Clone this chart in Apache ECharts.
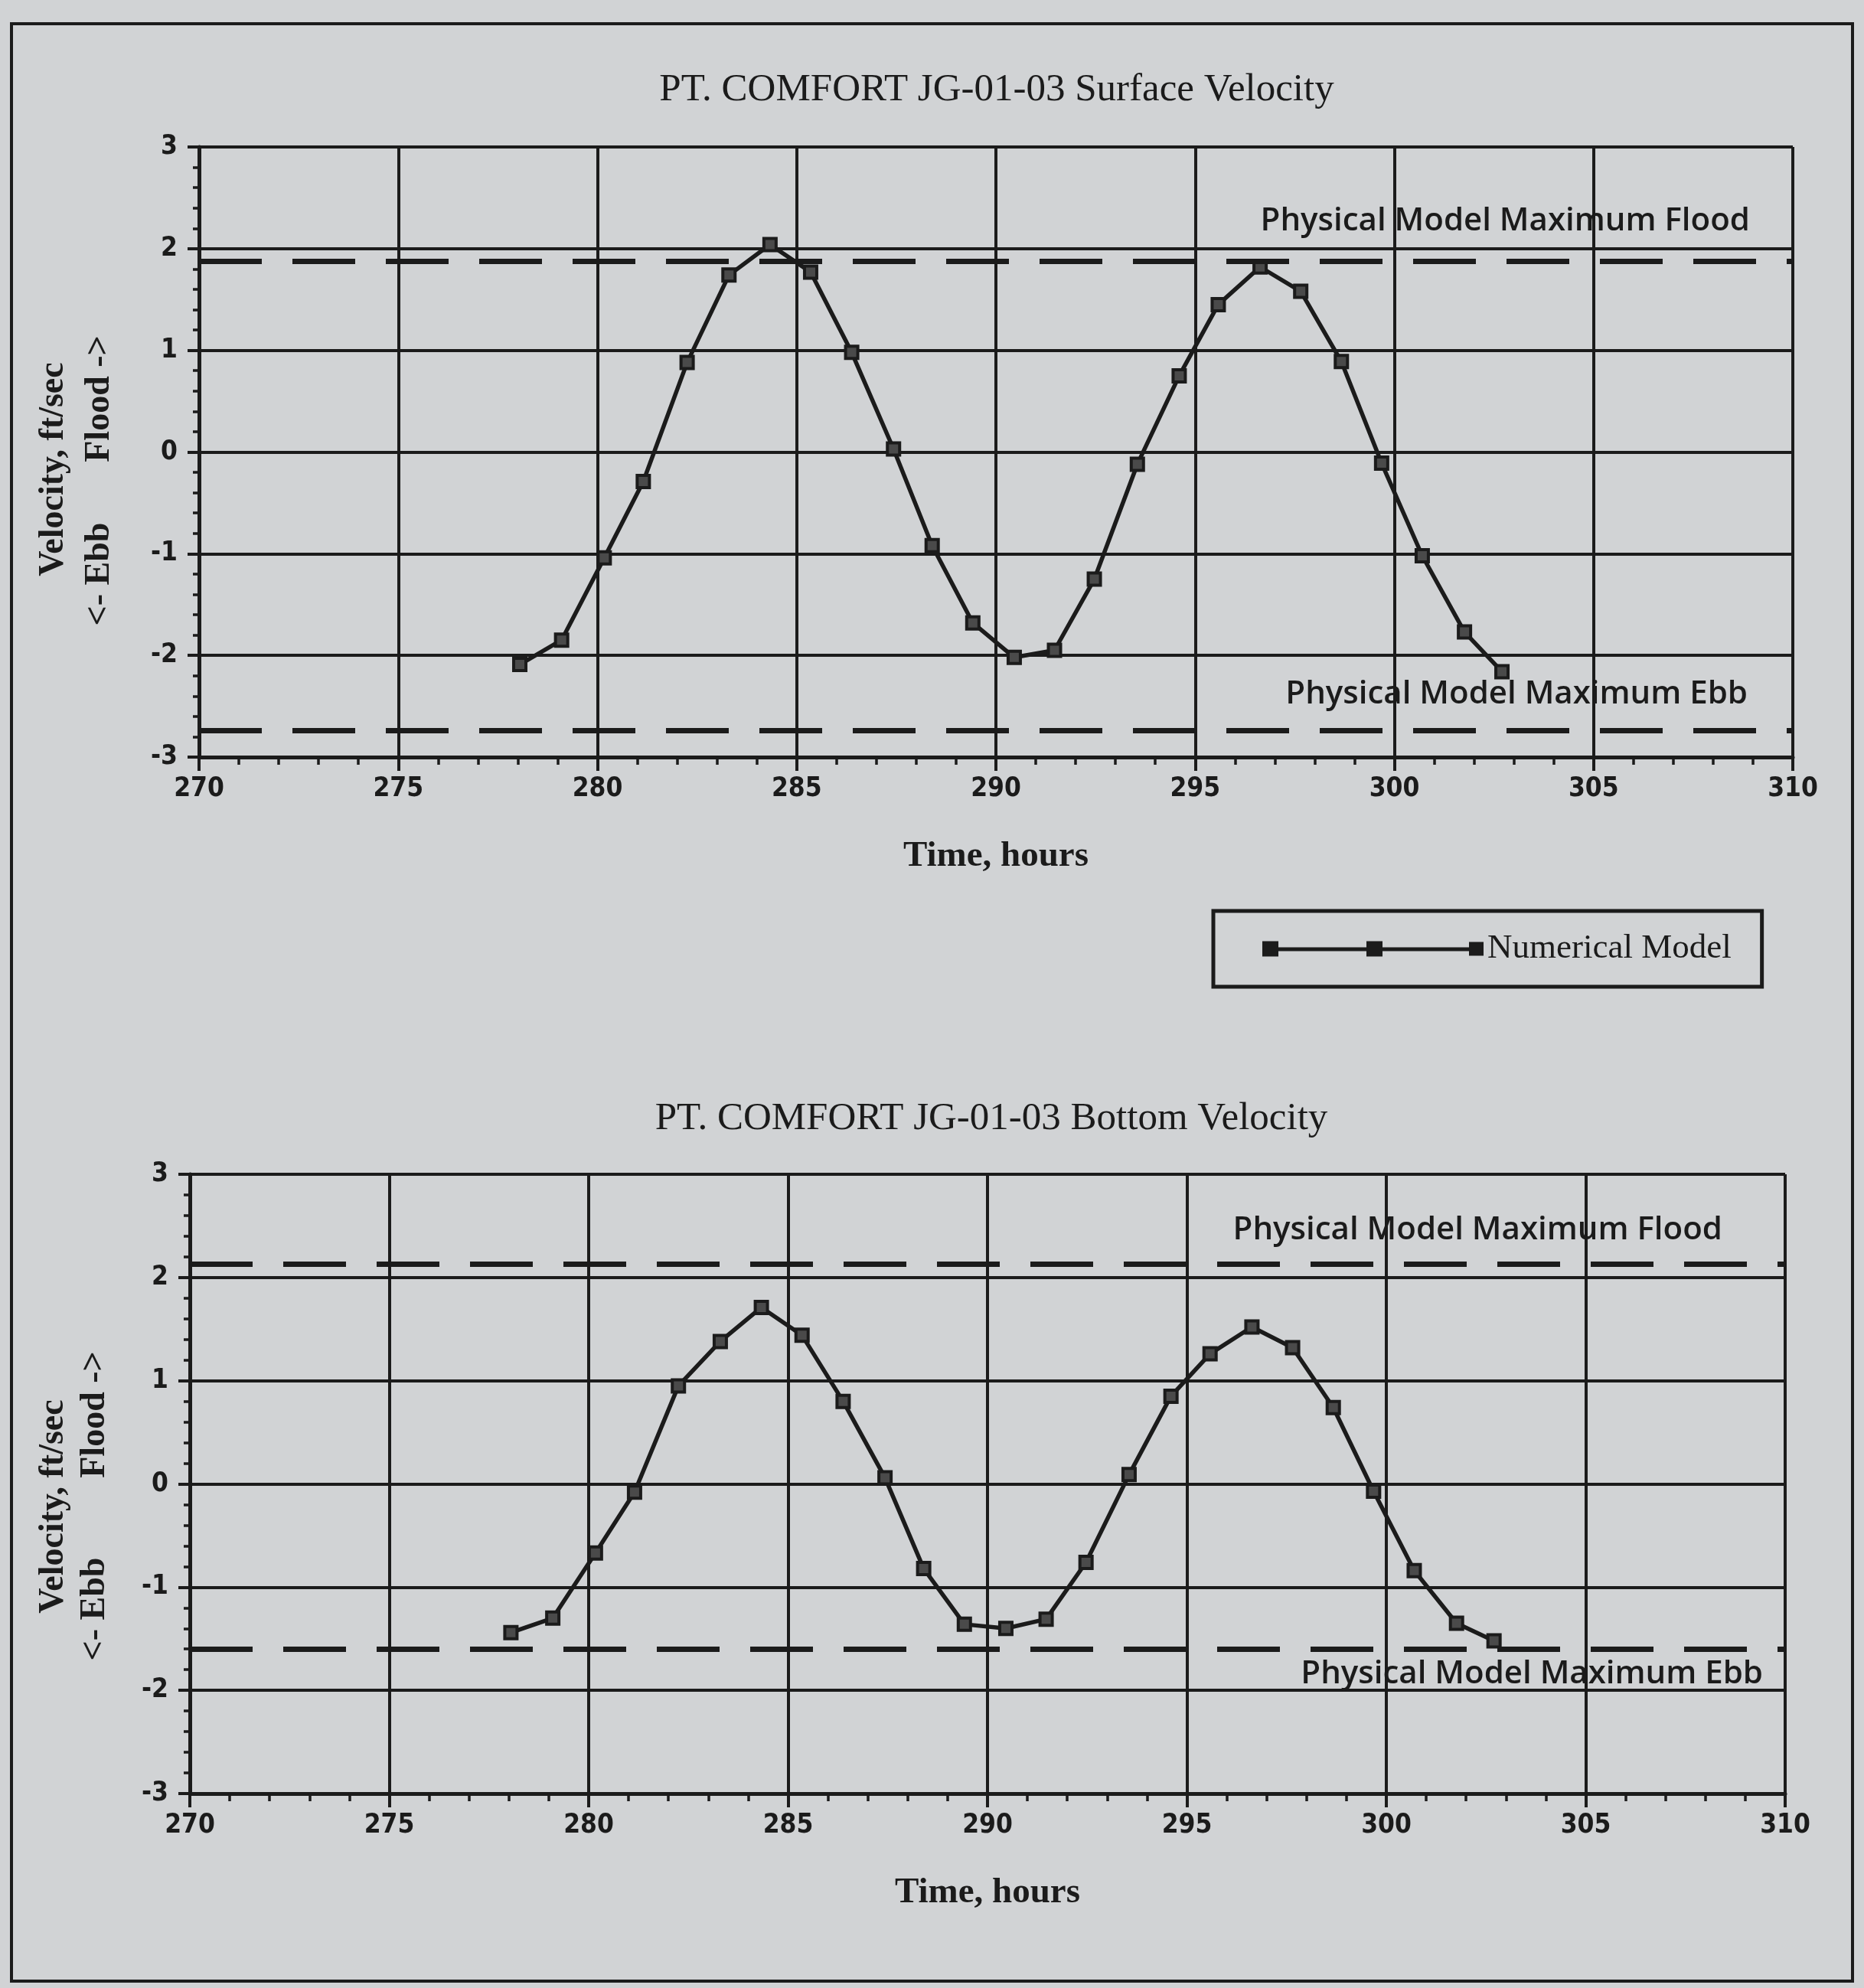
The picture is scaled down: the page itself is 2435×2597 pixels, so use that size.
<!DOCTYPE html>
<html>
<head>
<meta charset="utf-8">
<script src="https://cdn.jsdelivr.net/npm/echarts@6/dist/echarts.min.js"></script>
<style>
html,body{margin:0;padding:0;background:#d1d3d5;}
#c{width:2435px;height:2597px;}
</style>
</head>
<body>
<div id="c"></div>
<script>
// ---- data ----
const hours = [278.05, 279.10, 280.17, 281.15, 282.25, 283.30, 284.33, 285.35, 286.38, 287.43, 288.40, 289.42,
               290.46, 291.47, 292.47, 293.55, 294.60, 295.58, 296.63, 297.65, 298.67, 299.68, 300.70, 301.76, 302.70];
const surfaceVelocity = [-2.09, -1.85, -1.04, -0.29, 0.88, 1.74, 2.04, 1.77, 0.98, 0.03, -0.92, -1.68,
                         -2.02, -1.95, -1.25, -0.12, 0.75, 1.45, 1.82, 1.58, 0.89, -0.11, -1.02, -1.77, -2.16];
const bottomVelocity = [-1.44, -1.30, -0.67, -0.08, 0.95, 1.38, 1.71, 1.44, 0.80, 0.06, -0.82, -1.36,
                        -1.40, -1.31, -0.76, 0.09, 0.85, 1.26, 1.52, 1.32, 0.74, -0.07, -0.84, -1.35, -1.52];
const surfaceMaxFlood = 1.88, surfaceMaxEbb = -2.74;
const bottomMaxFlood = 2.13, bottomMaxEbb = -1.60;
const xRange = [270, 310], xStep = 5;
const yRange = [-3, 3], yStep = 1;
const titles = ['PT. COMFORT JG-01-03 Surface Velocity', 'PT. COMFORT JG-01-03 Bottom Velocity'];
const seriesName = 'Numerical Model';
const floodLabel = 'Physical Model Maximum Flood';
const ebbLabel = 'Physical Model Maximum Ebb';

// ---- styling ----
const INK = '#1b1b1b';
const serif = '"Liberation Serif", "Times New Roman", serif';
const tickFont = '"DejaVu Sans Condensed", "DejaVu Sans", sans-serif';
const annFont = '600 42px "Open Sans", sans-serif';

function xAxisCfg(gi) {
  return {
    type: 'value', gridIndex: gi, min: xRange[0], max: xRange[1], interval: xStep,
    name: 'Time, hours', nameLocation: 'middle', nameGap: 106,
    nameTextStyle: {fontFamily: serif, fontWeight: 'bold', fontSize: 47, color: INK},
    axisLine: {onZero: false, lineStyle: {color: INK, width: 5}},
    axisTick: {show: true, inside: false, length: 18, lineStyle: {color: INK, width: 4}},
    minorTick: {show: true, splitNumber: 5, length: 10, lineStyle: {color: INK, width: 3.5}},
    splitLine: {show: true, lineStyle: {color: INK, width: 4}},
    axisLabel: {margin: 24, fontFamily: tickFont, fontWeight: 'bold', fontSize: 35, color: INK}
  };
}
function yAxisCfg(gi) {
  return {
    type: 'value', gridIndex: gi, min: yRange[0], max: yRange[1], interval: yStep,
    axisLine: {onZero: false, lineStyle: {color: INK, width: 5}},
    axisTick: {show: true, inside: false, length: 15, lineStyle: {color: INK, width: 4}},
    minorTick: {show: true, splitNumber: 5, length: 8, lineStyle: {color: INK, width: 3.5}},
    splitLine: {show: true, lineStyle: {color: INK, width: 4}},
    axisLabel: {margin: 28, fontFamily: tickFont, fontWeight: 'bold', fontSize: 35, color: INK}
  };
}
function modelSeries(gi, values, flood, ebb) {
  return {
    name: seriesName, type: 'line', xAxisIndex: gi, yAxisIndex: gi,
    data: hours.map((h, i) => [h, values[i]]),
    symbol: 'rect', symbolSize: 16,
    lineStyle: {color: INK, width: 5.5},
    itemStyle: {color: '#4a4a4a', borderColor: INK, borderWidth: 4},
    animation: false,
    markLine: {
      silent: true, symbol: ['none', 'none'], animation: false,
      label: {show: false},
      lineStyle: {color: INK, width: 7, type: [82, 40]},
      data: [{yAxis: flood}, {yAxis: ebb}]
    }
  };
}

const chart = echarts.init(document.getElementById('c'), null, {renderer: 'canvas'});
const option = {
  backgroundColor: '#d1d3d5',
  animation: false,
  title: [
    {text: titles[0], left: 1302, top: 92, textAlign: 'center', padding: 0,
     textStyle: {fontFamily: serif, fontWeight: 'normal', fontSize: 51, color: INK}},
    {text: titles[1], left: 1295, top: 1436, textAlign: 'center', padding: 0,
     textStyle: {fontFamily: serif, fontWeight: 'normal', fontSize: 51, color: INK}}
  ],
  legend: {
    data: [seriesName], left: 1585, top: 1190,
    padding: [27, 40, 27, 64],
    borderColor: INK, borderWidth: 5,
    icon: 'path://M0,0h21v20h-21zM21,8h115v5h-115zM136,0h21v20h-21zM157,8h113v5h-113zM270,1h19v18h-19z',
    itemWidth: 289, itemHeight: 20,
    itemStyle: {color: INK, borderWidth: 0},
    textStyle: {fontFamily: serif, fontSize: 45, color: INK, lineHeight: 43}
  },
  grid: [
    {left: 260, top: 192, width: 2082, height: 797},
    {left: 248, top: 1534, width: 2084, height: 809}
  ],
  xAxis: [xAxisCfg(0), xAxisCfg(1)],
  yAxis: [yAxisCfg(0), yAxisCfg(1)],
  series: [
    modelSeries(0, surfaceVelocity, surfaceMaxFlood, surfaceMaxEbb),
    modelSeries(1, bottomVelocity, bottomMaxFlood, bottomMaxEbb)
  ]
};
chart.setOption(option);

function ann(gi, yVal, inset, dy, text) {
  const p = chart.convertToPixel({gridIndex: gi}, [xRange[1], yVal]);
  return {type: 'text', x: p[0] - inset, y: p[1] + dy, silent: true,
    style: {text: text, align: 'right', verticalAlign: 'middle', font: annFont, fill: INK}};
}
function vtext(x, y, text) {
  return {type: 'text', x: x, y: y, rotation: Math.PI / 2, silent: true,
    style: {text: text, align: 'center', verticalAlign: 'middle',
      font: 'bold 46px ' + serif, fill: INK}};
}
chart.setOption({
  graphic: [
    {type: 'rect', silent: true, shape: {x: 15, y: 31, width: 2405, height: 2557},
     style: {fill: 'none', stroke: INK, lineWidth: 4}},
    vtext(70, 613, 'Velocity, ft/sec'),
    vtext(130, 750, '<- Ebb'),
    vtext(130, 521, 'Flood ->'),
    vtext(70, 1968, 'Velocity, ft/sec'),
    vtext(124, 2102, '<- Ebb'),
    vtext(124, 1848, 'Flood ->'),
    ann(0, surfaceMaxFlood, 56, -52, floodLabel),
    ann(0, surfaceMaxEbb, 59, -47, ebbLabel),
    ann(1, bottomMaxFlood, 82, -44, floodLabel),
    ann(1, bottomMaxEbb, 29, 33, ebbLabel)
  ]
});
</script>
</body>
</html>
